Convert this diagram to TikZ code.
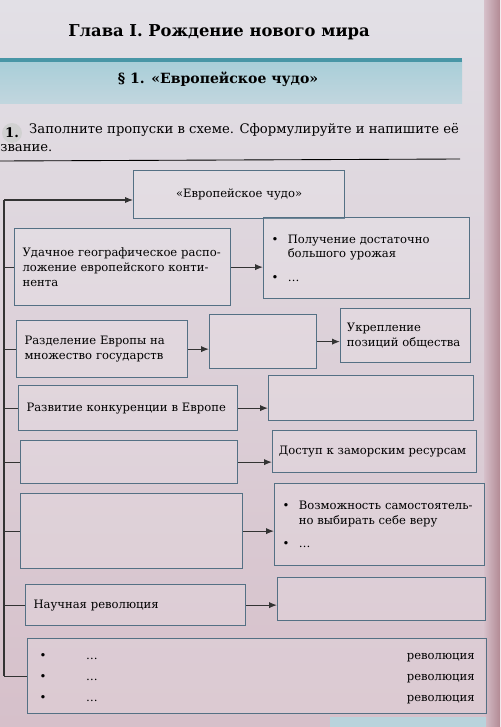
\documentclass[tikz,border=0pt]{standalone}
\usepackage{fontspec}
\setmainfont{DejaVu Serif}
\usetikzlibrary{arrows.meta}
\usetikzlibrary{calc}

\definecolor{papertop}{RGB}{226,224,230}
\definecolor{paperlow}{RGB}{214,192,202}
\definecolor{frame}{RGB}{84,112,132}
\definecolor{tealline}{RGB}{72,150,166}
\definecolor{band}{RGB}{168,206,216}
\definecolor{pageedge}{RGB}{178,138,148}

\tikzset{
  box/.style={draw=frame, line width=0.7pt, anchor=north west, inner xsep=4.5pt,
    align=left, font=\fontsize{6.6}{8.3}\selectfont,
    fill=white, fill opacity=0.15, text opacity=1},
  link/.style={line width=0.6pt, draw=black!80, -{Latex[length=4.5pt,width=3.5pt]}},
  trunk/.style={line width=0.6pt, draw=black!80},
}
\newcommand{\bul}{\makebox[1.4em][l]{\textbullet}}
\newcommand{\gap}{\hspace*{1.4em}}

\begin{document}
\begin{tikzpicture}[x=0.2mm,y=-0.2mm]
	% page
	\shade[top color=papertop, bottom color=paperlow] (0,0) rectangle (500,727);
	\useasboundingbox (0,0) rectangle (500,727);
	\shade[left color=paperlow, right color=pageedge] (484,0) rectangle (500,727);

	% header
	\node[font=\bfseries\fontsize{9.3}{11}\selectfont] (chapter) at (219,32) {Глава I. Рождение нового мира};
	\shade[top color=band, bottom color=band!55!papertop] (0,61) rectangle (462,104);
	\draw[tealline, line width=1.8pt] (0,60) -- (462,60);
	\node[font=\bfseries\fontsize{8}{10}\selectfont] (para) at (218,79) {§ 1. «Европейское чудо»};

	% task
	\node[circle, fill=black!18, inner sep=0.6pt, font=\bfseries\fontsize{7.5}{9}\selectfont] (num) at (12,133) {1.};
	\node[anchor=west, font=\fontsize{7.5}{9}\selectfont] (task) at (23,130) {Заполните пропуски в схеме. Сформулируйте и напишите её};
	\node[anchor=west, inner xsep=0pt, font=\fontsize{7.5}{9}\selectfont] (task2) at (0,148) {звание.};
	\draw[line width=0.5pt] (0,161) -- (460,159);

	% boxes
	\node[box, minimum width=42.2mm, minimum height=9.6mm, align=center, text width=38mm] (miracle) at (133,170) {«Европейское чудо»};

	\node[box, minimum width=42.8mm, minimum height=15.4mm, text width=40mm] (geo) at (14,228)
		{Удачное географическое распо-\\ложение европейского конти-\\нента};
	\node[box, minimum width=40.8mm, minimum height=16.2mm, text width=38mm] (harvest) at (263,217)
		{\bul Получение достаточно\\\gap большого урожая\\[5pt]\bul\dots};

	\node[box, minimum width=33.8mm, minimum height=11.4mm, text width=31mm] (split) at (16,320)
		{Разделение Европы на\\множество государств};
	\node[box, minimum width=21.4mm, minimum height=10.8mm] (blankA) at (209,314) {};
	\node[box, minimum width=26mm, minimum height=10.8mm, inner xsep=3.5pt, text width=23.5mm] (society) at (340,308)
		{Укрепление\\позиций общества};

	\node[box, minimum width=43.4mm, minimum height=9mm, text width=40.6mm] (rivalry) at (18,385)
		{Развитие конкуренции в Европе};
	\node[box, minimum width=41mm, minimum height=9mm] (blankB) at (268,375) {};

	\node[box, minimum width=43.4mm, minimum height=8.6mm] (blankC) at (20,440) {};
	\node[box, minimum width=40.8mm, minimum height=8.4mm, inner xsep=3.5pt, text width=38.3mm] (overseas) at (272,430)
		{Доступ к заморским ресурсам};

	\node[box, minimum width=44.4mm, minimum height=15mm] (blankD) at (20,493) {};
	\node[box, minimum width=41.6mm, minimum height=16.4mm, text width=38.8mm] (faith) at (274,483)
		{\bul Возможность самостоятель-\\\gap но выбирать себе веру\\[5pt]\bul\dots};

	\node[box, minimum width=43.6mm, minimum height=8.2mm, text width=40.8mm] (science) at (25,584)
		{Научная революция};
	\node[box, minimum width=41.6mm, minimum height=8.6mm] (blankE) at (277,577) {};

	\node[box, minimum width=91.8mm, minimum height=14.4mm, inner xsep=5pt] (revol) at (27,638)
		{\renewcommand{\arraystretch}{1.45}%
		\begin{tabular*}{87mm}{@{}l@{\extracolsep{\fill}}r@{}}
			\bul\hspace*{2.6em}\dots & революция\\
			\bul\hspace*{2.6em}\dots & революция\\
			\bul\hspace*{2.6em}\dots & революция
		\end{tabular*}};

	% next section strip
	\fill[band!70!papertop] (330,717) rectangle (486,727);

	% trunk on the left
	\coordinate (top) at (4,200);
	\coordinate (bottom) at (4,676);
	\draw[trunk] (top) -- (bottom);
	\draw[link] (top) -- (top -| miracle.west);
	\foreach \n in {geo,split,rivalry,blankC,blankD,science,revol}
		\draw[trunk] (\n.west -| top) -- (\n.west);

	% arrows
	\draw[link] (geo.east) -- (geo.east -| harvest.west);
	\draw[link] (split.east) -- (split.east -| blankA.west);
	\draw[link] (blankA.east) -- (blankA.east -| society.west);
	\draw[link] (rivalry.east) -- (rivalry.east -| blankB.west);
	\draw[link] (blankC.east) -- (blankC.east -| overseas.west);
	\draw[link] (blankD.east) -- (blankD.east -| faith.west);
	\draw[link] (science.east) -- (science.east -| blankE.west);
\end{tikzpicture}
\end{document}
